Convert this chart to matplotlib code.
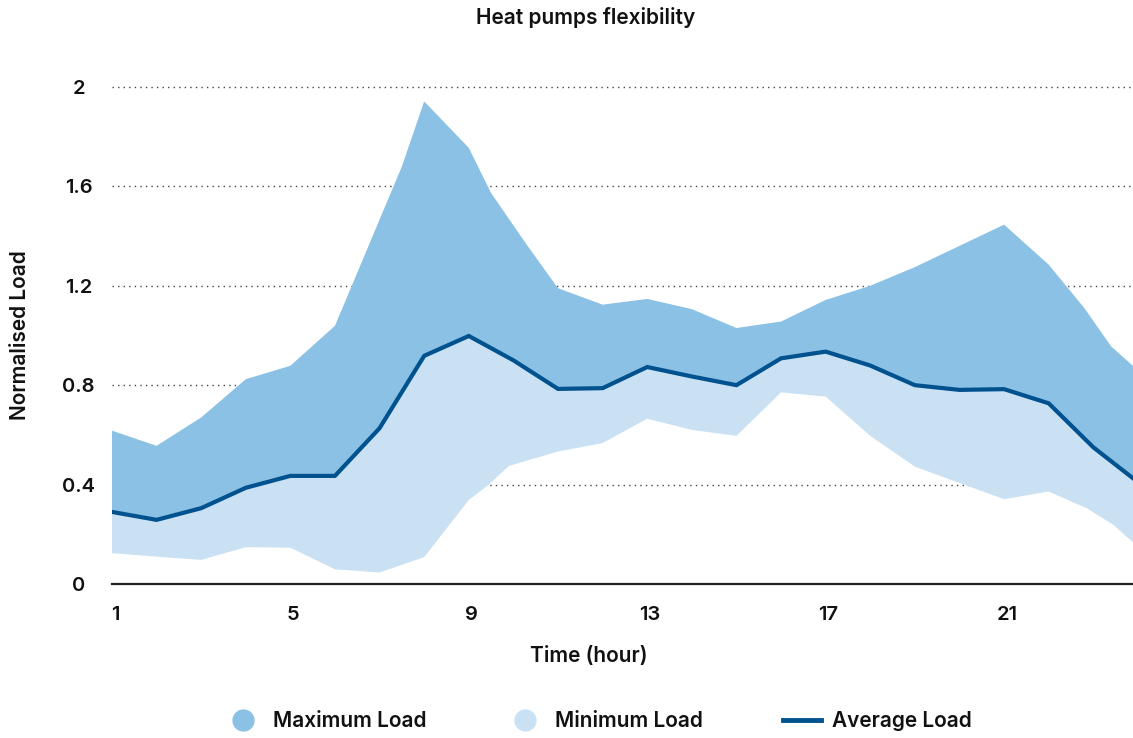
import numpy as np
import matplotlib
matplotlib.use("Agg")
import matplotlib.pyplot as plt
from matplotlib.lines import Line2D
from matplotlib.transforms import ScaledTranslation

plt.rcParams['font.family'] = ['Inter', 'DejaVu Sans']

# average load, one value per hour
hours = np.arange(1, 25)
avg_load = [0.29, 0.258, 0.305, 0.387, 0.435, 0.435, 0.627, 0.918, 0.998, 0.90,
            0.785, 0.788, 0.873, 0.835, 0.80, 0.908, 0.935, 0.879, 0.80, 0.781,
            0.784, 0.727, 0.55, 0.41]

# upper envelope (maximum load)
max_hours = [1, 2, 3, 4, 5, 6, 7.5, 8, 9, 9.5, 10.3, 11, 12, 13, 14, 15, 16, 17,
             18, 19, 21, 22, 22.8, 23.4, 24]
max_load = [0.617, 0.556, 0.67, 0.824, 0.878, 1.039, 1.68, 1.942, 1.755, 1.573,
            1.365, 1.19, 1.124, 1.147, 1.106, 1.03, 1.056, 1.143, 1.2, 1.275,
            1.446, 1.285, 1.11, 0.956, 0.86]

# lower envelope (minimum load)
min_hours = [1, 2, 3, 4, 5, 6, 7, 8, 9, 9.45, 9.9, 11, 12, 13, 14, 15, 16, 17,
             18, 19, 21, 22, 22.85, 23.45, 24]
min_load = [0.124, 0.11, 0.097, 0.148, 0.146, 0.059, 0.046, 0.108, 0.338, 0.40,
            0.475, 0.533, 0.567, 0.665, 0.62, 0.596, 0.771, 0.754, 0.596, 0.472,
            0.341, 0.372, 0.305, 0.238, 0.15]

x_ticks = [1, 5, 9, 13, 17, 21]
y_ticks = [0, 0.4, 0.8, 1.2, 1.6, 2]
y_labels = ["0", "0.4", "0.8", "1.2", "1.6", "2"]

C_MAX = "#8AC1E4"
C_MIN = "#CAE1F4"
C_AVG = "#00528F"
TXT = "#111111"
FS = 15
W = 'semibold'

fig = plt.figure(figsize=(11.33, 7.38), dpi=100)
ax = fig.add_axes([0.0988, 0.2087, 0.9012, 0.6903])

# bands: min -> avg (light), avg -> max (medium)
ax.fill(np.r_[min_hours, hours[::-1]], np.r_[min_load, avg_load[::-1]],
        color=C_MIN, lw=0, zorder=1)
ax.fill(np.r_[hours, max_hours[::-1]], np.r_[avg_load, max_load[::-1]],
        color=C_MAX, lw=0, zorder=1)
ax.plot(hours, avg_load, color=C_AVG, lw=3, solid_joinstyle='miter', zorder=3)

ax.set_xlim(1, 23.89)
ax.set_ylim(0, 2.05)

ax.yaxis.grid(True, linestyle=(0, (1, 3)), color="#444444", lw=1.0)
ax.set_axisbelow(True)
ax.set_yticks(y_ticks)
ax.set_yticklabels(y_labels)
ax.set_xticks(x_ticks)

for s in ['top', 'right', 'left']:
    ax.spines[s].set_visible(False)
ax.spines['bottom'].set_color("#222222")
ax.spines['bottom'].set_linewidth(1.6)
ax.spines['bottom'].set_zorder(4)

ax.tick_params(axis='both', length=0, labelsize=14.5, labelcolor=TXT)
ax.tick_params(axis='y', pad=24)
ax.tick_params(axis='x', pad=16)
for lab in ax.get_yticklabels():
    lab.set_horizontalalignment('center')
    lab.set_fontweight(W)
shift = ScaledTranslation(3 / 100, 0, fig.dpi_scale_trans)
for lab in ax.get_xticklabels():
    lab.set_fontweight(W)
    lab.set_transform(lab.get_transform() + shift)

# hide the grid line at 0 (baseline drawn by spine)
ax.get_ygridlines()[0].set_visible(False)

fig.text(586 / 1133, 1 - 18 / 738, "Heat pumps flexibility", ha='center', va='center',
         fontsize=FS, fontweight=W, color=TXT)
fig.text(589 / 1133, 1 - 656 / 738, "Time (hour)", ha='center', va='center',
         fontsize=FS, fontweight=W, color=TXT)
fig.text(20 / 1133, 1 - 335 / 738, "Normalised Load", ha='center', va='center',
         rotation=90, fontsize=FS, fontweight=W, color=TXT)

handles = [
    Line2D([], [], ls='none', marker='o', markersize=15, color=C_MAX),
    Line2D([], [], ls='none', marker='o', markersize=15, color=C_MIN),
    Line2D([], [], color=C_AVG, lw=3.5),
]
fig.legend(handles, ["Maximum Load", "Minimum Load", "Average Load"],
           loc='center', bbox_to_anchor=(598 / 1133, 1 - 721 / 738), ncol=3,
           frameon=False, handlelength=1.8, handletextpad=0.55, columnspacing=3.85,
           prop={'size': FS, 'weight': W}, labelcolor=TXT)

fig.savefig("out.png", dpi=100)
